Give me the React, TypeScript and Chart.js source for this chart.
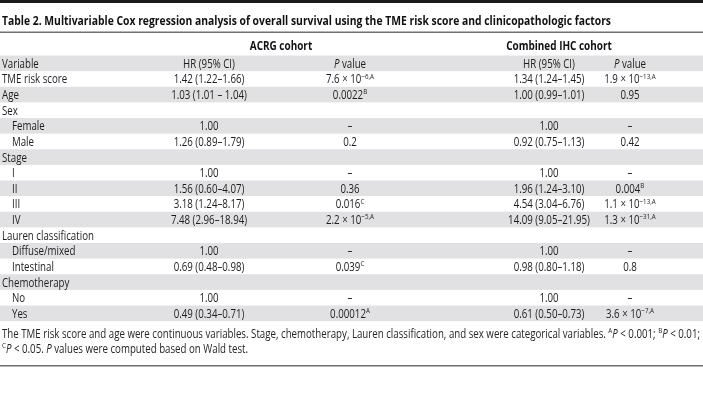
import { useEffect, useRef } from "react";
import { Chart, registerables } from "chart.js";

Chart.register(...registerables);

const title =
  "Table 2. Multivariable Cox regression analysis of overall survival using the TME risk score and clinicopathologic factors";
const cohorts = ["ACRG cohort", "Combined IHC cohort"];
const columnHeaders = ["Variable", "HR (95% CI)", "*P* value", "HR (95% CI)", "*P* value"];

const variables = [
  "TME risk score",
  "Age",
  "Sex",
  "Female",
  "Male",
  "Stage",
  "I",
  "II",
  "III",
  "IV",
  "Lauren classification",
  "Diffuse/mixed",
  "Intestinal",
  "Chemotherapy",
  "No",
  "Yes",
];
const isSubRow = [false, false, false, true, true, false, true, true, true, true, false, true, true, false, true, true];

const acrgHR = [
  "1.42 (1.22–1.66)",
  "1.03 (1.01 – 1.04)",
  "",
  "1.00",
  "1.26 (0.89–1.79)",
  "",
  "1.00",
  "1.56 (0.60–4.07)",
  "3.18 (1.24–8.17)",
  "7.48 (2.96–18.94)",
  "",
  "1.00",
  "0.69 (0.48–0.98)",
  "",
  "1.00",
  "0.49 (0.34–0.71)",
];
const acrgP = [
  "7.6 × 10^{−6,A}",
  "0.0022^{B}",
  "",
  "–",
  "0.2",
  "",
  "–",
  "0.36",
  "0.016^{C}",
  "2.2 × 10^{−5,A}",
  "",
  "–",
  "0.039^{C}",
  "",
  "–",
  "0.00012^{A}",
];
const ihcHR = [
  "1.34 (1.24–1.45)",
  "1.00 (0.99–1.01)",
  "",
  "1.00",
  "0.92 (0.75–1.13)",
  "",
  "1.00",
  "1.96 (1.24–3.10)",
  "4.54 (3.04–6.76)",
  "14.09 (9.05–21.95)",
  "",
  "1.00",
  "0.98 (0.80–1.18)",
  "",
  "1.00",
  "0.61 (0.50–0.73)",
];
const ihcP = [
  "1.9 × 10^{−13,A}",
  "0.95",
  "",
  "–",
  "0.42",
  "",
  "–",
  "0.004^{B}",
  "1.1 × 10^{−13,A}",
  "1.3 × 10^{−31,A}",
  "",
  "–",
  "0.8",
  "",
  "–",
  "3.6 × 10^{−7,A}",
];
const footnotes = [
  "The TME risk score and age were continuous variables. Stage, chemotherapy, Lauren classification, and sex were categorical variables. ^{A}*P* < 0.001; ^{B}*P* < 0.01;",
  "^{C}*P* < 0.05. *P* values were computed based on Wald test.",
];

const rowLabels = ["Variable", ...variables];

const FAMILY = "'Open Sans', 'Noto Sans', sans-serif";
const FS = 12.5;
const TEXT = "#1f1c1d";

type Part = { t: string; kind: "n" | "i" | "s" };

function parse(s: string): Part[] {
  const out: Part[] = [];
  const re = /(\^\{[^}]*\}|\*[^*]*\*)/g;
  let last = 0;
  let m: RegExpExecArray | null;
  while ((m = re.exec(s))) {
    if (m.index > last) out.push({ t: s.slice(last, m.index), kind: "n" });
    const tok = m[0];
    if (tok.startsWith("^")) out.push({ t: tok.slice(2, -1), kind: "s" });
    else out.push({ t: tok.slice(1, -1), kind: "i" });
    last = m.index + tok.length;
  }
  if (last < s.length) out.push({ t: s.slice(last), kind: "n" });
  return out;
}

function fontFor(kind: string, size: number, bold: boolean) {
  const w = bold ? "bold " : "";
  if (kind === "s") return `${w}${(size * 0.64).toFixed(1)}px ${FAMILY}`;
  if (kind === "i") return `italic ${w}${size}px ${FAMILY}`;
  return `${w}${size}px ${FAMILY}`;
}

function measureRich(ctx: CanvasRenderingContext2D, s: string, size: number, bold: boolean) {
  let total = 0;
  parse(s).forEach((p) => {
    ctx.font = fontFor(p.kind, size, bold);
    total += ctx.measureText(p.t).width;
  });
  return total;
}

function drawRich(
  ctx: CanvasRenderingContext2D,
  s: string,
  x: number,
  baseline: number,
  align: "left" | "center",
  sx: number,
  size = FS,
  bold = false,
  color = TEXT
) {
  const parts = parse(s);
  let total = 0;
  const widths = parts.map((p) => {
    ctx.font = fontFor(p.kind, size, bold);
    const w = ctx.measureText(p.t).width * sx;
    total += w;
    return w;
  });
  let cx = align === "center" ? x - total / 2 : x;
  ctx.fillStyle = color;
  ctx.textAlign = "left";
  ctx.textBaseline = "alphabetic";
  parts.forEach((p, k) => {
    ctx.font = fontFor(p.kind, size, bold);
    ctx.save();
    ctx.translate(cx, p.kind === "s" ? baseline - size * 0.38 : baseline);
    ctx.scale(sx, 1);
    ctx.fillText(p.t, 0, 0);
    ctx.restore();
    cx += widths[k];
  });
}

const COL = { label: 2, indent: 12, acrgHR: 209, acrgP: 350, ihcHR: 549, ihcP: 630, acrgHead: 281, ihcHead: 559 };
const FIT = { title: 609, footnote: 698 };

const tablePlugin = {
  id: "tablePlugin",
  beforeDatasetsDraw(chart: any) {
    const { ctx, chartArea, scales } = chart;
    const y = scales.y;
    const x = scales.x;
    const step = y.getPixelForValue(1) - y.getPixelForValue(0);
    ctx.save();
    ctx.fillStyle = "#1b1b1b";
    ctx.fillRect(0, 0, chart.width, 3);
    ctx.fillStyle = "#6f6f6f";
    ctx.fillRect(0, 31.5, chart.width, 1.5);
    ctx.fillRect(0, 365, chart.width, 1.5);
    ctx.fillStyle = "#e1e1e3";
    for (let i = 0; i < rowLabels.length; i += 2) {
      const c = y.getPixelForValue(i);
      ctx.fillRect(x.getPixelForValue(0), c - step / 2, chartArea.right - chartArea.left, step);
    }
    ctx.restore();
  },
  afterDatasetsDraw(chart: any) {
    const { ctx, scales } = chart;
    const y = scales.y;
    const x = scales.x;
    const px = (v: number) => x.getPixelForValue(v);
    ctx.save();
    const sx = FIT.footnote / measureRich(ctx, footnotes[0], FS, false);
    const tsx = FIT.title / measureRich(ctx, title, 13, true);

    drawRich(ctx, title, px(2), 24.5, "left", tsx, 13, true, "#111");
    const headY = y.getPixelForValue(-1) + 2;
    drawRich(ctx, cohorts[0], px(COL.acrgHead), headY, "center", tsx, 12.5, true, "#111");
    drawRich(ctx, cohorts[1], px(COL.ihcHead), headY, "center", tsx, 12.5, true, "#111");

    const hb = y.getPixelForValue(0) + 4.5;
    drawRich(ctx, columnHeaders[0], px(COL.label), hb, "left", sx);
    drawRich(ctx, columnHeaders[1], px(COL.acrgHR), hb, "center", sx);
    drawRich(ctx, columnHeaders[2], px(COL.acrgP), hb, "center", sx);
    drawRich(ctx, columnHeaders[3], px(COL.ihcHR), hb, "center", sx);
    drawRich(ctx, columnHeaders[4], px(COL.ihcP), hb, "center", sx);

    variables.forEach((v, i) => {
      const b = y.getPixelForValue(i + 1) + 4.5;
      drawRich(ctx, v, px(isSubRow[i] ? COL.indent : COL.label), b, "left", sx);
      if (acrgHR[i]) drawRich(ctx, acrgHR[i], px(COL.acrgHR), b, "center", sx);
      if (acrgP[i]) drawRich(ctx, acrgP[i], px(COL.acrgP), b, "center", sx);
      if (ihcHR[i]) drawRich(ctx, ihcHR[i], px(COL.ihcHR), b, "center", sx);
      if (ihcP[i]) drawRich(ctx, ihcP[i], px(COL.ihcP), b, "center", sx);
    });

    footnotes.forEach((f, k) => {
      drawRich(ctx, f, px(2), 338 + k * 15, "left", sx, FS, false, "#262626");
    });
    ctx.restore();
  },
};

export default function App() {
  const ref = useRef<HTMLCanvasElement | null>(null);
  useEffect(() => {
    document.body.style.margin = "0";
    const canvas = ref.current;
    if (!canvas) return;
    const chart = new Chart(canvas, {
      type: "bar",
      data: {
        labels: rowLabels,
        datasets: [{ data: [], backgroundColor: "transparent" }],
      },
      options: {
        animation: false,
        responsive: false,
        maintainAspectRatio: false,
        devicePixelRatio: 1,
        indexAxis: "y",
        layout: { padding: { top: 55.5, bottom: 419 - 55.5 - 17 * 15.625, left: 0, right: 0 } },
        plugins: { legend: { display: false }, tooltip: { enabled: false }, title: { display: false } },
        scales: {
          x: { type: "linear", min: 0, max: 703, display: false },
          y: { type: "category", display: false, offset: true },
        },
      },
      plugins: [tablePlugin],
    } as any);
    return () => chart.destroy();
  }, []);
  return (
    <div style={{ width: 703, height: 419, background: "#fff" }}>
      <canvas ref={ref} width={703} height={419} style={{ display: "block" }} />
    </div>
  );
}
